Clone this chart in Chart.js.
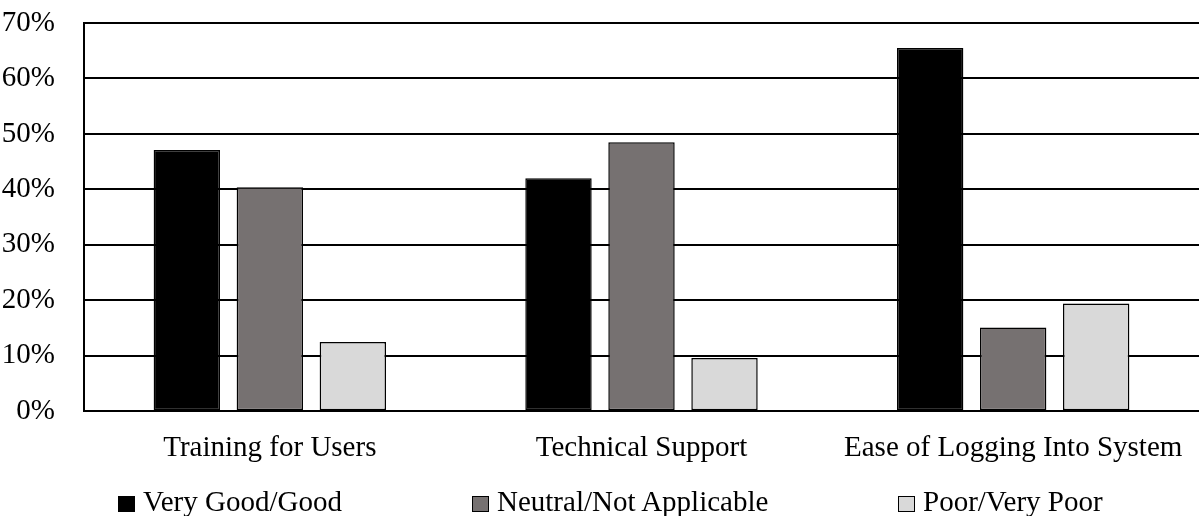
<!DOCTYPE html>
<html>
<head>
<meta charset="utf-8">
<script src="https://cdn.jsdelivr.net/npm/chart.js@4"></script>
<style>
  body { margin: 0; background: #fff; }
  #wrap { position: relative; width: 1199px; height: 516px; }
  #legend { position: absolute; left: 0; top: 486px; width: 1199px; height: 30px;
    font-family: "Liberation Serif", "Times New Roman", serif; font-size: 29px; color: #000; }
  .item { position: absolute; top: 0; line-height: 30px; white-space: nowrap; padding-left: 25px; }
  .box { position: absolute; left: 0; top: 10px; width: 15px; height: 14px; border: 1px solid #000; }
</style>
</head>
<body>
<div id="wrap">
  <canvas id="chart" width="1199" height="516"></canvas>
  <div id="legend"></div>
</div>
<script>
const categories = ['Training for Users', 'Technical Support', 'Ease of Logging Into System'];
const seriesNames = ['Very Good/Good', 'Neutral/Not Applicable', 'Poor/Very Poor'];
const veryGood = [47.1, 42.0, 65.5];
const neutral = [40.4, 48.5, 15.1];
const poor = [12.5, 9.6, 19.4];
const colors = ['#000000', '#767171', '#d9d9d9'];
const yTicks = [0, 10, 20, 30, 40, 50, 60, 70];

const font = { family: '"Liberation Serif", "Times New Roman", serif', size: 29 };

const datasets = [veryGood, neutral, poor].map((vals, i) => ({
  label: seriesNames[i],
  data: vals,
  backgroundColor: colors[i],
  borderColor: '#000',
  borderWidth: 1.5,
  borderSkipped: false,
  categoryPercentage: 0.67,
  barPercentage: 0.8
}));

new Chart(document.getElementById('chart').getContext('2d'), {
  type: 'bar',
  data: { labels: categories, datasets },
  options: {
    responsive: false,
    animation: false,
    layout: { padding: { top: 23, right: 0, bottom: 38, left: 0 } },
    plugins: { legend: { display: false }, tooltip: { enabled: false } },
    scales: {
      x: {
        grid: { display: false },
        border: { display: false },
        ticks: { color: '#000', font, padding: 12, maxRotation: 0 }
      },
      y: {
        min: 0,
        max: 70,
        // fixed axis width, and no extra room for the top label
        afterFit: s => { s.width = 84; s.paddingTop = 0; s.paddingBottom = 0; },
        afterBuildTicks: s => { s.ticks = yTicks.map(v => ({ value: v })); },
        grid: { color: '#000', lineWidth: 2, drawTicks: false },
        border: { color: '#000', width: 2 },
        ticks: { color: '#000', font, padding: 29, callback: v => v + '%' }
      }
    }
  }
});

// legend entries spaced like the original (equal gaps between entries)
const legendX = [118, 472, 898];
const legend = document.getElementById('legend');
seriesNames.forEach((name, i) => {
  const el = document.createElement('span');
  el.className = 'item';
  el.style.left = legendX[i] + 'px';
  el.innerHTML = '<span class="box" style="background:' + colors[i] + '"></span>' + name;
  legend.appendChild(el);
});
</script>
</body>
</html>
